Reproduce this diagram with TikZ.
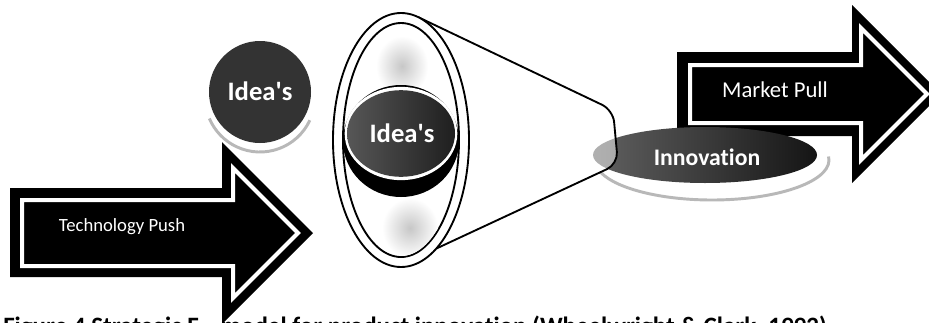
\documentclass[tikz,border=0pt]{standalone}
\usepackage{fontspec}
\setmainfont{Carlito}[Ligatures={NoCommon}]
\usetikzlibrary{shapes.geometric}
\begin{document}
\begin{tikzpicture}[x=0.75pt,y=-0.75pt,
  lbl/.style={text=white, inner sep=0pt},
  arrowwhite/.style={draw=white, line width=3pt, line join=miter},
  lensline/.style={draw=black, line width=1.4pt},
  shadowarc/.style={draw=black!28, line width=2.2pt},
  ell/.style={ellipse, inner sep=0pt, outer sep=0pt},
  capfont/.style={font=\bfseries\fontsize{18.75}{20}\selectfont}
]
\path[use as bounding box] (0,0) rectangle (929,322);
\clip (0,0) rectangle (929,322);
\fill[white] (0,0) rectangle (929,322);

% caption (its lower part lies below the picture's edge, as in the reference)
\node[anchor=base west, inner sep=0pt, capfont] (cap1) at (3,334) {Figure 4 Strategic F};
\node[anchor=base east, inner sep=0pt, capfont] (cap2) at (827,334) {model for product innovation (Wheelwright \& Clark, 1992)};

% Technology Push arrow
\fill[black] (10,188) -- (222,188) -- (222,142) -- (313,233) -- (222,324) -- (222,277) -- (10,277) -- cycle;
\draw[arrowwhite] (22,200) -- (233,200) -- (233,168) -- (298,233) -- (233,298) -- (233,266) -- (22,266) -- cycle;
\node[lbl, anchor=base, font=\fontsize{14}{16}\selectfont] (tp) at (122,231) {Technology Push};

% small Idea's circle
\draw[shadowarc] (260,97) ++(25:55) arc[start angle=25, end angle=157, radius=55];
\node[circle, fill=black!80, minimum size=76.5pt, inner sep=0pt] (idea1) at (260,92) {};
\node[lbl, font=\bfseries\fontsize{20}{22}\selectfont] (idea1t) at (260,91) {Idea\textquotesingle s};

% Market Pull arrow
\fill[black] (677,52) -- (852,52) -- (852,5) -- (941,94) -- (852,183) -- (852,136) -- (677,136) -- cycle;
\draw[arrowwhite] (690,65) -- (861,65) -- (861,28) -- (927,94) -- (861,160) -- (861,123) -- (690,123) -- cycle;
\node[lbl, anchor=base, font=\fontsize{17}{19}\selectfont] (mp) at (775,97) {Market Pull};

% Innovation ellipse
\draw[shadowarc] (712,160) ++(-5:117 and 40) arc[start angle=-5, end angle=162, x radius=117, y radius=40];
\node[ell, minimum width=168pt, minimum height=42pt, left color=black!62, right color=black!92] (innov) at (705,155) {};

% cone
\node[ell, minimum width=102pt, minimum height=190.5pt] (lensref) at (401,140) {};
\filldraw[fill=white, fill opacity=0.5, lensline, rounded corners=9pt] (lensref.82) -- (613,110) -- (618,164) -- (lensref.-72);

% lens
\node[ell, lensline, fill=white, minimum width=102pt, minimum height=190.5pt] (lens) at (401,140) {};
\node[ell, lensline, fill=white, minimum width=87pt, minimum height=175.5pt] (lensin) at (401,140) {};
\begin{scope}
  \clip (401,140) ellipse[x radius=57, y radius=116];
  \shade[inner color=black!22, outer color=white] (402,66) ellipse[x radius=26, y radius=30];
  \shade[inner color=black!22, outer color=white] (410,228) ellipse[x radius=28, y radius=30];
\end{scope}
\node[ell, fill=black, minimum width=87pt, minimum height=84pt] (ringA) at (401,141) {};
\node[ell, fill=white, minimum width=84.5pt, minimum height=70pt] (ringB) at (401,133.5) {};
\node[ell, minimum width=81pt, minimum height=65pt, left color=black!66, right color=black!88] (idea2) at (401,133.5) {};
\node[lbl, font=\bfseries\fontsize{20}{22}\selectfont] (idea2t) at (402,133) {Idea\textquotesingle s};

\node[lbl, anchor=base, font=\bfseries\fontsize{17.8}{20}\selectfont] (innovt) at (707,165) {Innovation};
\end{tikzpicture}
\end{document}
